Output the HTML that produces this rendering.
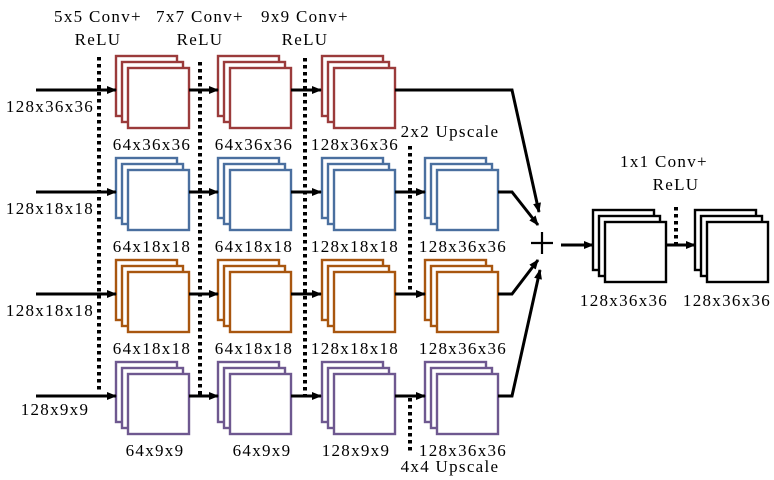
<!DOCTYPE html>
<html><head><meta charset="utf-8"><style>
html,body{margin:0;padding:0;background:#fff;}
svg{display:block;}
text{font-family:"Liberation Serif",serif;font-size:17px;letter-spacing:1.3px;fill:#000;}
</style></head><body>
<svg width="774" height="480" viewBox="0 0 774 480" xmlns="http://www.w3.org/2000/svg">
<defs>
<marker id="ah" markerWidth="10" markerHeight="8" refX="9" refY="4" orient="auto" markerUnits="userSpaceOnUse">
<path d="M0,0 L10,4 L0,8 Z" fill="#000"/></marker>
<g id="stk" fill="#fff" stroke-width="2.4">
<rect x="1" y="1" width="61" height="60"/>
<rect x="7" y="7" width="61" height="60"/>
<rect x="13" y="13" width="61" height="60"/>
</g>
</defs>
<g stroke="#000" stroke-width="4" stroke-dasharray="3.5,3.5">
<line x1="99" y1="57" x2="99" y2="392"/>
<line x1="200" y1="62" x2="200" y2="396"/>
<line x1="305" y1="58" x2="305" y2="396"/>
<line x1="410" y1="146" x2="410" y2="294"/>
<line x1="410" y1="398" x2="410" y2="452"/>
<line x1="676" y1="207" x2="676" y2="244"/>
</g>
<g stroke="#9b3b3b"><use href="#stk" x="115" y="55"/><use href="#stk" x="217" y="55"/><use href="#stk" x="321" y="55"/></g>
<g stroke="#4a6f9f"><use href="#stk" x="115" y="157"/><use href="#stk" x="217" y="157"/><use href="#stk" x="321" y="157"/><use href="#stk" x="424" y="157"/></g>
<g stroke="#a8560f"><use href="#stk" x="115" y="259"/><use href="#stk" x="217" y="259"/><use href="#stk" x="321" y="259"/><use href="#stk" x="424" y="259"/></g>
<g stroke="#6e5890"><use href="#stk" x="115" y="361"/><use href="#stk" x="217" y="361"/><use href="#stk" x="321" y="361"/><use href="#stk" x="424" y="361"/></g>
<g stroke="#000"><use href="#stk" x="592" y="209"/><use href="#stk" x="694" y="209"/></g>
<g stroke="#000" stroke-width="3" fill="none" marker-end="url(#ah)">
<line x1="36" y1="90" x2="116" y2="90"/>
<line x1="36" y1="192" x2="116" y2="192"/>
<line x1="36" y1="294" x2="116" y2="294"/>
<line x1="36" y1="396" x2="116" y2="396"/>
<line x1="189" y1="90" x2="218" y2="90"/><line x1="291" y1="90" x2="321" y2="90"/>
<line x1="189" y1="192" x2="218" y2="192"/><line x1="291" y1="192" x2="321" y2="192"/><line x1="395" y1="192" x2="425" y2="192"/>
<line x1="189" y1="294" x2="218" y2="294"/><line x1="291" y1="294" x2="321" y2="294"/><line x1="395" y1="294" x2="425" y2="294"/>
<line x1="189" y1="396" x2="218" y2="396"/><line x1="291" y1="396" x2="321" y2="396"/><line x1="395" y1="396" x2="425" y2="396"/>
<polyline points="395,90 512,90 539,212"/>
<polyline points="498,192 512,192 538,225"/>
<polyline points="498,294 512,294 538,260"/>
<polyline points="498,396 512,396 540,270"/>
<line x1="561" y1="245" x2="593" y2="245"/>
<line x1="666" y1="245" x2="695" y2="245"/>
</g>
<line x1="531" y1="243" x2="553" y2="243" stroke="#000" stroke-width="2.2"/>
<line x1="542" y1="232" x2="542" y2="254" stroke="#000" stroke-width="2.2"/>
<g text-anchor="middle">
<text x="98" y="22">5x5 Conv+</text><text x="98" y="45">ReLU</text>
<text x="200" y="22">7x7 Conv+</text><text x="200" y="45">ReLU</text>
<text x="305" y="22">9x9 Conv+</text><text x="305" y="45">ReLU</text>
<text x="664" y="167">1x1 Conv+</text><text x="676" y="190">ReLU</text>
<text x="450" y="137">2x2 Upscale</text>
<text x="450" y="472">4x4 Upscale</text>
<text x="50" y="112">128x36x36</text>
<text x="50" y="214">128x18x18</text>
<text x="50" y="316">128x18x18</text>
<text x="55" y="415">128x9x9</text>
<text x="152" y="150">64x36x36</text><text x="254" y="150">64x36x36</text><text x="355" y="150">128x36x36</text>
<text x="152" y="252">64x18x18</text><text x="254" y="252">64x18x18</text><text x="355" y="252">128x18x18</text><text x="463" y="252">128x36x36</text>
<text x="152" y="354">64x18x18</text><text x="254" y="354">64x18x18</text><text x="355" y="354">128x18x18</text><text x="463" y="354">128x36x36</text>
<text x="155" y="456">64x9x9</text><text x="262" y="456">64x9x9</text><text x="356" y="456">128x9x9</text><text x="463" y="456">128x36x36</text>
<text x="624" y="306">128x36x36</text><text x="727" y="306">128x36x36</text>
</g>
</svg>
</body></html>
